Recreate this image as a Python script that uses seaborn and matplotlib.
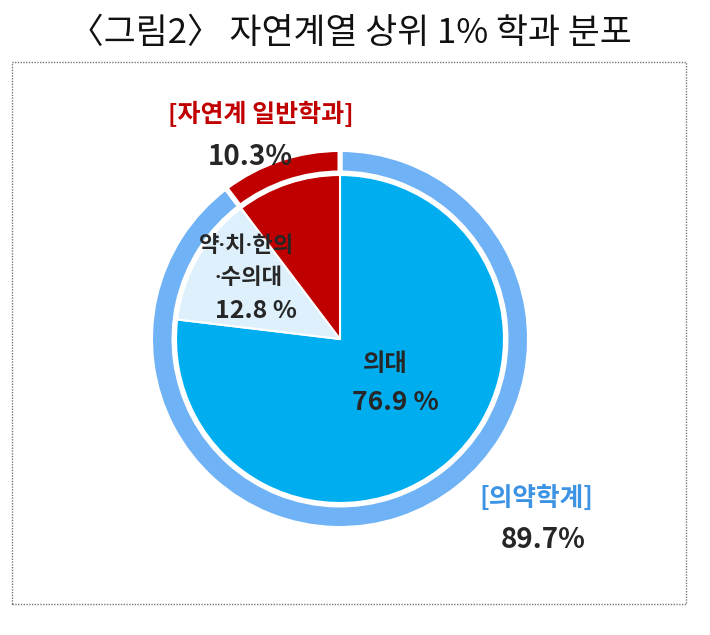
import matplotlib
matplotlib.use("Agg")
import matplotlib.pyplot as plt
import seaborn as sns
from matplotlib.patches import Rectangle

sns.set_theme(style="white")
plt.rcParams['font.family'] = ['Noto Sans CJK KR', 'DejaVu Sans']

# ---- data ----
inner_labels = ["의대", "약·치·한의\n·수의대", "자연계 일반학과"]
inner_values = [76.9, 12.8, 10.3]
outer_labels = ["의약학계", "자연계 일반학과"]
outer_values = [89.7, 10.3]
title = "〈그림2〉 자연계열 상위 1% 학과 분포"

inner_colors = ["#00AEEF", "#DDF0FC", "#C00000"]
outer_colors = ["#6FB2F5", "#C00000"]
dark = "#262626"
narrow_dot = ['Roboto', 'Noto Sans CJK KR', 'DejaVu Sans']

W, H = 710, 635
fig = plt.figure(figsize=(W / 100, H / 100), dpi=100)
ax = fig.add_axes([0, 0, 1, 1])

cx, cy = 340, H - 339

ax.pie(outer_values, colors=outer_colors, startangle=90, counterclock=False,
       radius=189.5, center=(cx, cy),
       wedgeprops=dict(width=23.5, edgecolor="white", linewidth=3.6))
ax.pie(inner_values, colors=inner_colors, startangle=90, counterclock=False,
       radius=164, center=(cx, cy),
       wedgeprops=dict(edgecolor="white", linewidth=1.5))

ax.set_xlim(0, W)
ax.set_ylim(0, H)
ax.set_aspect("equal")
ax.axis("off")

# dotted frame
ax.add_patch(Rectangle((12, H - 604), 674, 542, fill=False,
                       edgecolor="#777777", linewidth=1.0,
                       linestyle=(0, (1, 1))))

def T(x, y, s, **kw):
    ax.text(x, H - y, s, ha="center", va="center", **kw)

T(350, 33, title, fontsize=25, color="#111111")

T(261, 114, f"[{inner_labels[2]}]", fontsize=18, fontweight="bold", color="#C00000")
T(250, 157, f"{outer_values[1]}%", fontsize=20, fontweight="bold", color=dark)

lab1, lab2 = inner_labels[1].split("\n")
T(247, 246, lab1, fontsize=16, fontweight="bold", color=dark, family=narrow_dot)
T(249, 278, lab2, fontsize=16, fontweight="bold", color=dark, family=narrow_dot)
T(256, 311, f"{inner_values[1]} %", fontsize=18, fontweight="bold", color=dark)

T(385, 364, inner_labels[0], fontsize=17.5, fontweight="bold", color=dark)
T(395, 402, f"{inner_values[0]} %", fontsize=19, fontweight="bold", color=dark)

T(536, 498, f"[{outer_labels[0]}]", fontsize=18.5, fontweight="bold", color="#3C93E4")
T(543, 540, f"{outer_values[0]}%", fontsize=20, fontweight="bold", color=dark)

fig.savefig("out.png", dpi=100)
